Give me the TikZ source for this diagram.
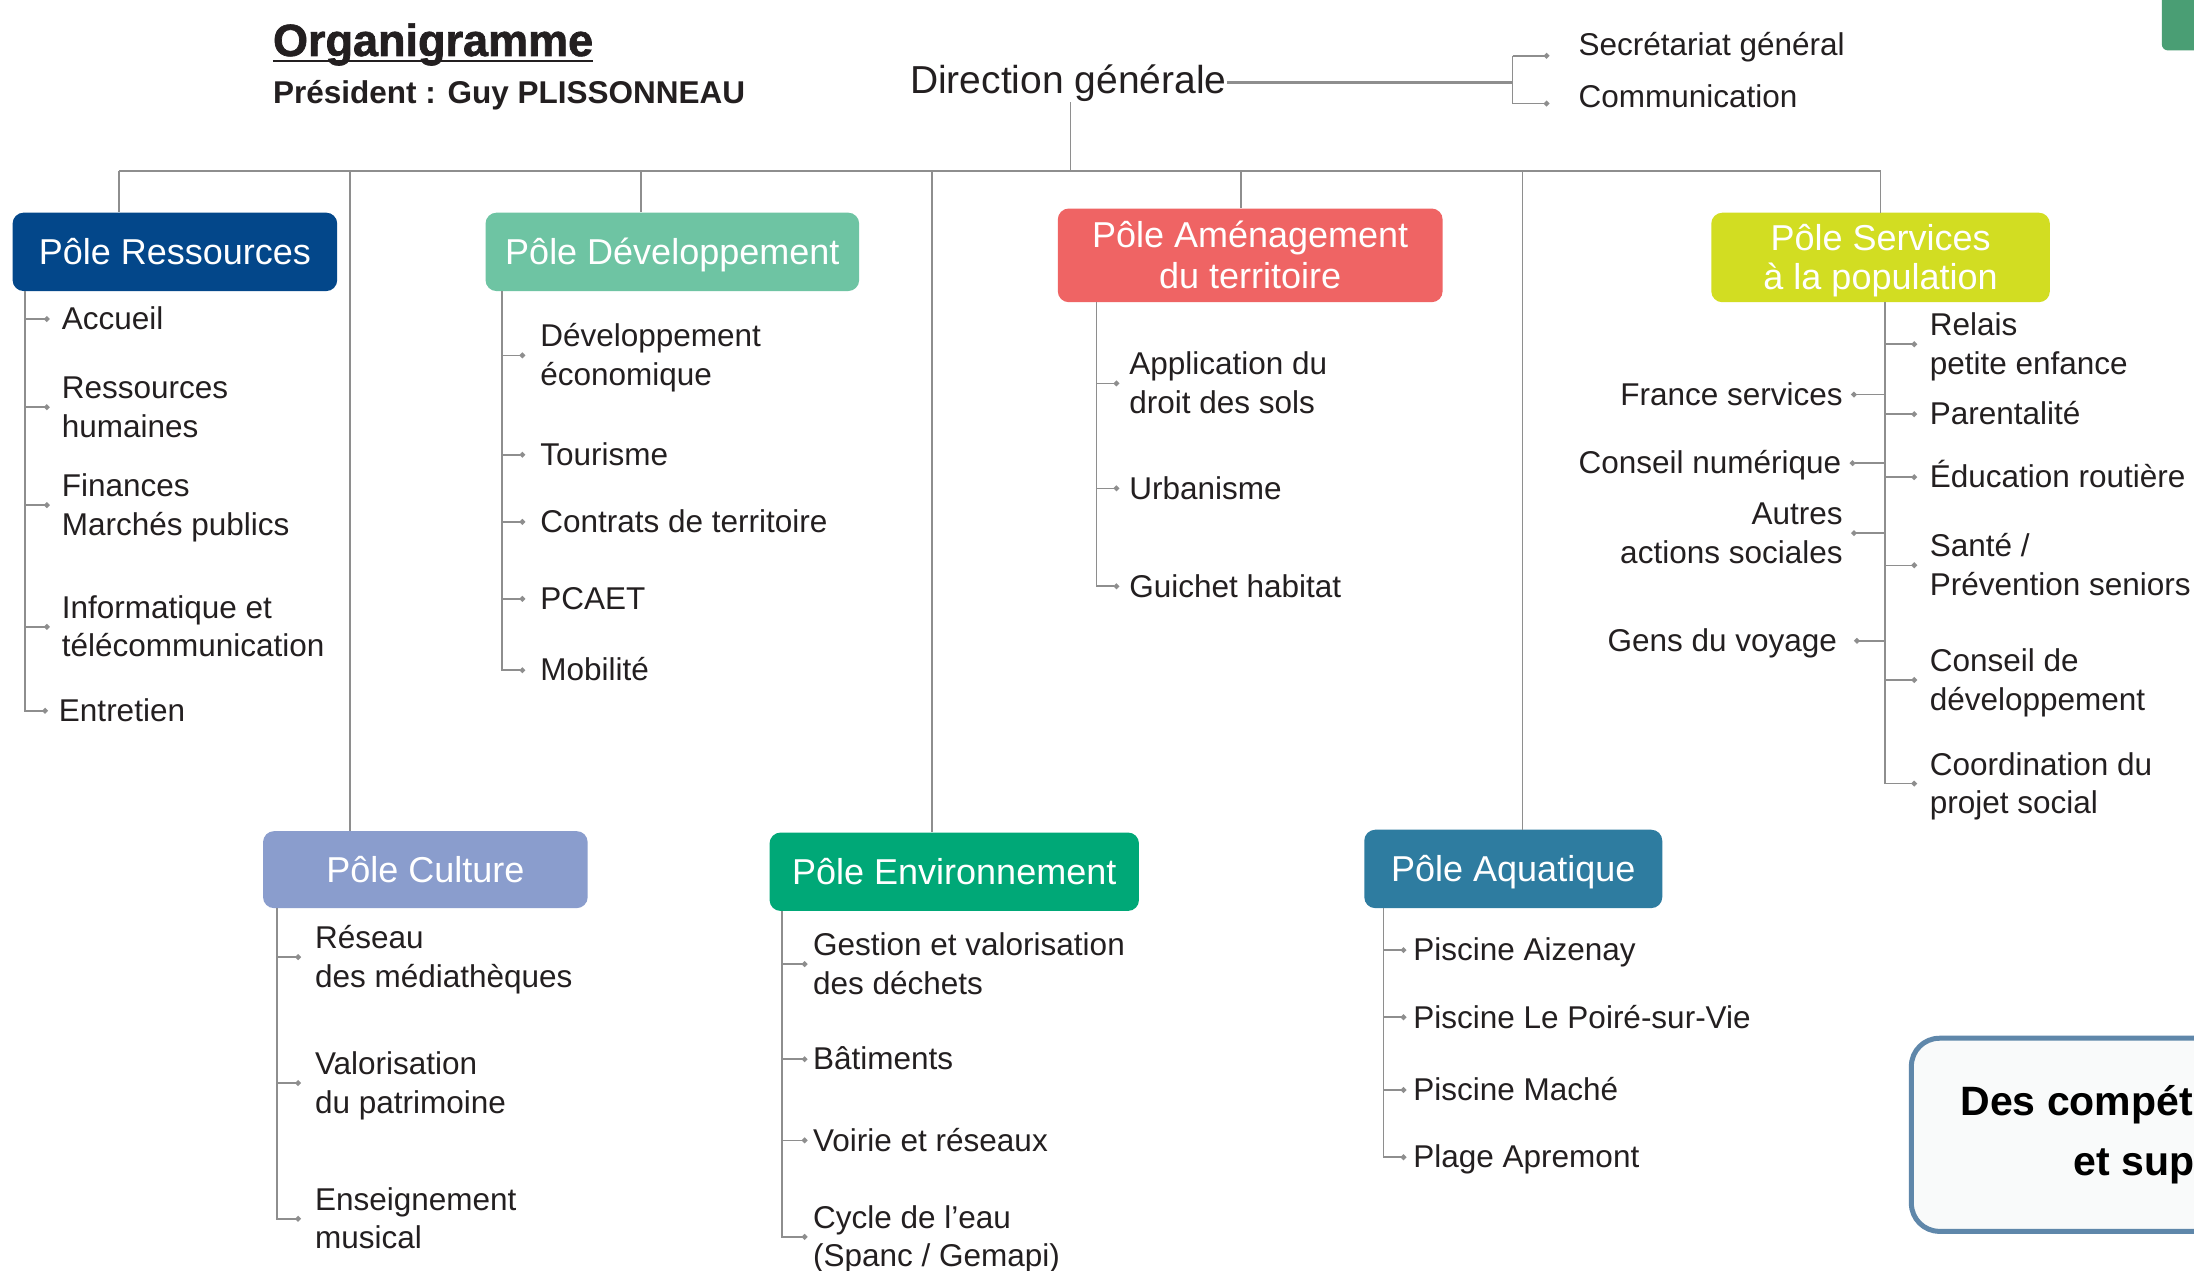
\documentclass[tikz,border=0pt]{standalone}
\usepackage{fontspec}
\setmainfont{Liberation Sans}
\newfontfamily\heavyfont[FakeBold=1.5]{Liberation Sans Bold}
\usetikzlibrary{arrows.meta}
\definecolor{txt}{HTML}{231F20}
\definecolor{lgray}{HTML}{8E8E8E}
\definecolor{cR}{HTML}{03478A}
\definecolor{cD}{HTML}{6EC4A3}
\definecolor{cA}{HTML}{EF6464}
\definecolor{cS}{HTML}{D2DD22}
\definecolor{cC}{HTML}{8A9DCD}
\definecolor{cE}{HTML}{00A877}
\definecolor{cQ}{HTML}{2E7CA0}
\definecolor{cG}{HTML}{4A9E74}
\definecolor{bxb}{HTML}{5F87AA}
\definecolor{bxf}{HTML}{F9FAFA}
\newcommand{\itemf}{\fontsize{31.5}{38.5}\selectfont}
\newcommand{\polef}{\fontsize{36}{39}\selectfont}
\newcommand{\st}{\vrule width 0pt height 30pt depth 8.5pt\relax}
\newcommand{\pst}{\vrule width 0pt height 32.4pt depth 6.6pt\relax}
\tikzset{
  conn/.style={draw=lgray, line width=1.6pt},
  mainln/.style={draw=lgray, line width=2.2pt},
  stub/.style={draw=lgray, line width=1.6pt, -{Circle[length=5.5pt]}},
  item/.style={anchor=west, inner sep=0pt, align=left, font=\itemf, text=txt},
  ritem/.style={anchor=east, inner sep=0pt, align=right, font=\itemf, text=txt},
  pole/.style={rounded corners=11pt, inner sep=0pt, align=center, font=\polef, text=white},
}
\begin{document}
\begin{tikzpicture}[x=1.3992pt, y=-1.3992pt]
\useasboundingbox (0,0) rectangle (1568,908);
\clip (0,0) rectangle (1568,908);
\fill[white] (0,0) rectangle (1568,908);

% top-right green piece
\fill[cG, rounded corners=6pt] (1545,-10) rectangle (1580,36);

% title
\node[anchor=base west, inner sep=0pt, font=\fontsize{45}{50}\heavyfont, text=txt] (title) at (195,40) {Organigramme};
\draw[txt, line width=2.8pt] ([yshift=-5pt]title.base west) -- ([yshift=-5pt]title.base east);
\node[anchor=base west, inner sep=0pt, font=\fontsize{31.5}{36}\selectfont\bfseries, text=txt] (pres) at (195,74) {Président : Guy PLISSONNEAU};

% direction generale
\node[anchor=base, inner sep=0pt, font=\fontsize{39}{44}\selectfont, text=txt] (dg) at (763.5,67) {Direction générale};
\node[item] (sg) at (1128,32) {Secrétariat général\st};
\node[item] (com) at (1128,69) {Communication\st};
\coordinate (br) at (1081,59);
\draw[mainln] (dg.east |- br) -- (br);
\draw[stub] ([yshift=-11pt]sg.west -| br) -- ([xshift=-29pt,yshift=-11pt]sg.west);
\draw[conn] ([yshift=-11pt]sg.west -| br) -- ([yshift=-7pt]com.west -| br);
\draw[stub] ([yshift=-7pt]com.west -| br) -- ([xshift=-29pt,yshift=-7pt]com.west);

% hub and main line
\coordinate (hub) at (765,122);
\coordinate (jR) at (85,122);
\coordinate (jD) at (458,122);
\coordinate (jA) at (887,122);
\coordinate (jS) at (1344,122);
\coordinate (jC) at (250,122);
\coordinate (jE) at (666,122);
\coordinate (jQ) at (1088,122);
\draw[conn] (dg.south -| hub) -- (hub);
\draw[mainln] (jR) -- (jS);

% poles
\node[pole, fill=cR, minimum width=324.6pt, minimum height=78.4pt] (rB) at (125,180) {Pôle Ressources\pst};
\node[pole, fill=cD, minimum width=373.6pt, minimum height=78.4pt] (dB) at (480.5,180) {Pôle Développement\pst};
\node[pole, fill=cA, minimum width=384.8pt, minimum height=93.7pt] (aB) at (893.5,182.5) {Pôle Aménagement\pst\\du territoire\pst};
\node[pole, fill=cS, minimum width=338.6pt, minimum height=89.5pt] (sB) at (1344,184) {Pôle Services\pst\\à la population\pst};
\node[pole, fill=cC, minimum width=324.6pt, minimum height=77pt] (cB) at (304,621.5) {Pôle Culture\pst};
\node[pole, fill=cE, minimum width=369.4pt, minimum height=78.4pt] (eB) at (682,623) {Pôle Environnement\pst};
\node[pole, fill=cQ, minimum width=298pt, minimum height=78.4pt] (qB) at (1081.5,621) {Pôle Aquatique\pst};

% drops
\draw[conn] (jR) -- (jR |- rB.north);
\draw[conn] (jD) -- (jD |- dB.north);
\draw[conn] (jA) -- (jA |- aB.north);
\draw[conn] (jS) -- (jS |- sB.north);
\draw[conn] (jC) -- (jC |- cB.north);
\draw[conn] (jE) -- (jE |- eB.north);
\draw[conn] (jQ) -- (jQ |- qB.north);

% Ressources list
\node[item] (r1) at (44,228) {Accueil\st};
\node[item] (r2) at (44,291) {Ressources\st\\humaines\st};
\node[item] (r3) at (44,361) {Finances\st\\Marchés publics\st};
\node[item] (r4) at (44,448) {Informatique et\st\\télécommunication\st};
\node[item] (r5) at (42,508) {Entretien\st};
\coordinate (tR) at ([xshift=12.6pt]rB.south west);
\foreach \n in {r1,r2,r3,r4} \draw[stub] (tR |- \n.west) -- ([xshift=-12pt]\n.west);
\draw[stub] (tR) |- ([xshift=-11pt]r5.west);

% Developpement list
\node[item] (d1) at (386,254) {Développement\st\\économique\st};
\node[item] (d2) at (386,325) {Tourisme\st};
\node[item] (d3) at (386,373) {Contrats de territoire\st};
\node[item] (d4) at (386,428) {PCAET\st};
\node[item] (d5) at (386,479) {Mobilité\st};
\coordinate (tD) at ([xshift=16.8pt]dB.south west);
\foreach \n in {d1,d2,d3,d4} \draw[stub] (tD |- \n.west) -- ([xshift=-15pt]\n.west);
\draw[stub] (tD) |- ([xshift=-15pt]d5.west);

% Amenagement list
\node[item] (a1) at (807,274) {Application du\st\\droit des sols\st};
\node[item] (a2) at (807,349) {Urbanisme\st};
\node[item] (a3) at (807,419) {Guichet habitat\st};
\coordinate (tA) at ([xshift=39pt]aB.south west);
\foreach \n in {a1,a2} \draw[stub] (tA |- \n.west) -- ([xshift=-10pt]\n.west);
\draw[stub] (tA) |- ([xshift=-10pt]a3.west);

% Services list
\node[item] (s1) at (1379,246) {Relais\st\\petite enfance\st};
\node[item] (s2) at (1379,296) {Parentalité\st};
\node[item] (s3) at (1379,341) {Éducation routière\st};
\node[item] (s4) at (1379,404) {Santé /\st\\Prévention seniors\st};
\node[item] (s5) at (1379,486) {Conseil de\st\\développement\st};
\node[item] (s6) at (1379,560) {Coordination du\st\\projet social\st};
\node[ritem] (l1) at (1317,282) {France services\st};
\node[ritem] (l2) at (1316,331) {Conseil numérique\st};
\node[ritem] (l3) at (1317,381) {Autres\st\\actions sociales\st};
\node[ritem] (l4) at (1313,458) {Gens du voyage\st};
\coordinate (tS) at (1347,216);
\foreach \n in {s1,s2,s3,s4,s5} \draw[stub] (tS |- \n.west) -- ([xshift=-12.6pt]\n.west);
\draw[stub] (tS) |- ([xshift=-12.6pt]s6.west);
\foreach \n in {l1,l2,l3} \draw[stub] (tS |- \n.east) -- ([xshift=8.4pt]\n.east);
\draw[stub] (tS |- l4.east) -- ([xshift=17pt]l4.east);

% Culture list
\node[item] (c1) at (225,684) {Réseau\st\\des médiathèques\st};
\node[item] (c2) at (225,774) {Valorisation\st\\du patrimoine\st};
\node[item] (c3) at (225,871) {Enseignement\st\\musical\st};
\coordinate (tC) at ([xshift=14pt]cB.south west);
\foreach \n in {c1,c2} \draw[stub] (tC |- \n.west) -- ([xshift=-14pt]\n.west);
\draw[stub] (tC) |- ([xshift=-14pt]c3.west);

% Environnement list
\node[item] (e1) at (581,689) {Gestion et valorisation\st\\des déchets\st};
\node[item] (e2) at (581,757) {Bâtiments\st};
\node[item] (e3) at (581,815) {Voirie et réseaux\st};
\node[item] (e4) at (581,884) {Cycle de l’eau\st\\(Spanc / Gemapi)\st};
\coordinate (tE) at ([xshift=12.6pt]eB.south west);
\foreach \n in {e1,e2,e3} \draw[stub] (tE |- \n.west) -- ([xshift=-5.6pt]\n.west);
\draw[stub] (tE) |- ([xshift=-5.6pt]e4.west);

% Aquatique list
\node[item] (q1) at (1010,679) {Piscine Aizenay\st};
\node[item] (q2) at (1010,727) {Piscine Le Poiré-sur-Vie\st};
\node[item] (q3) at (1010,779) {Piscine Maché\st};
\node[item] (q4) at (1010,827) {Plage Apremont\st};
\coordinate (tQ) at ([xshift=19.6pt]qB.south west);
\foreach \n in {q1,q2,q3} \draw[stub] (tQ |- \n.west) -- ([xshift=-7pt]\n.west);
\draw[stub] (tQ) |- ([xshift=-7pt]q4.west);

% bottom-right box
\draw[draw=bxb, fill=bxf, line width=5pt, rounded corners=28pt] (1366,742) rectangle (1620,880);
\node[anchor=base west, inner sep=0pt, font=\fontsize{41}{46}\selectfont\bfseries, text=black] (bx1) at (1401,797) {Des compét};
\node[anchor=base west, inner sep=0pt, font=\fontsize{41}{46}\selectfont\bfseries, text=black] (bx2) at (1482,840) {et sup};
\end{tikzpicture}
\end{document}
